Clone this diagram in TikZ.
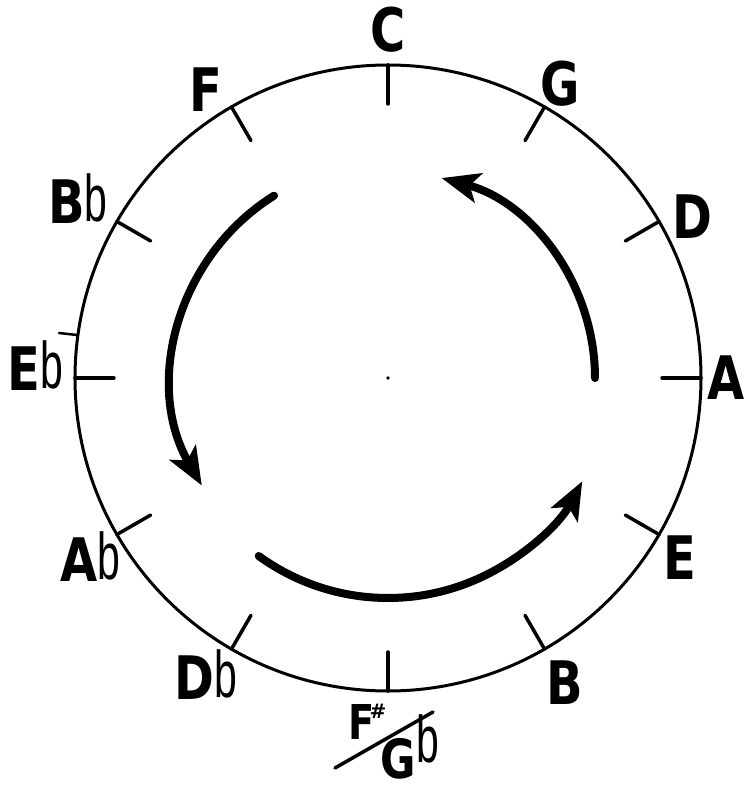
\documentclass[tikz,border=0pt]{standalone}
\usepackage{fontspec}
\setmainfont{DejaVu Sans}
\newfontfamily\keyfont{DejaVu Sans}[FakeStretch=0.8]
\newfontfamily\flatfont{Liberation Sans}
\usetikzlibrary{arrows.meta,calc}
\newcommand{\fl}{{\flatfont\mdseries\fontsize{66}{66}\selectfont\raisebox{2pt}{\scalebox{0.62}[1]{b}}}}
\tikzset{
  ring/.style={line width=3pt},
  tickmark/.style={line width=3.5pt, line cap=round},
  turn/.style={line width=8pt, line cap=round, -{Stealth[length=38pt,width=30pt,inset=9pt]}},
  key/.style={font=\keyfont\bfseries\fontsize{60}{60}\selectfont, inner sep=0pt},
}
\begin{document}
\begin{tikzpicture}[x=1pt,y=1pt]
\useasboundingbox (-388,-409) rectangle (357,378);
\coordinate (o) at (0,0);
\draw[ring] (o) circle[radius=313];
\foreach \a in {90,60,30,0,-30,-60,-90,-120,-150,180,150,120}{
  \draw[tickmark] ($(o)+(\a:313)$) coordinate (t\a) -- ($(o)+(\a:274)$);
}
\fill (o) circle[radius=1.8pt];
% labels
\node[key] (lC) at (0,348) {C};
\node[key] (lG) at (172,294) {G};
\node[key] (lD) at (304,161) {D};
\node[key] (lA) at (338,0) {A};
\node[key] (lE) at (292,-180) {E};
\node[key] (lB) at (177,-305) {B};
\node[key] (lDb) at (-182,-297) {D\fl};
\node[key] (lAb) at (-298,-179) {A\fl};
\node[key] (lEb) at (-353,12) {E\fl};
\node[key] (lBb) at (-310,179) {B\fl};
\node[key] (lF) at (-182,288) {F};
% F sharp / G flat
\node[key, font=\keyfont\bfseries\fontsize{48}{48}\selectfont] (lFs) at (-26,-344) {F};
\node[inner sep=0pt, font=\bfseries\fontsize{20}{20}\selectfont] (lsharp) at (-10,-333) {\#};
\node[key, font=\keyfont\bfseries\fontsize{54}{54}\selectfont] (lGb) at (10,-381) {G};
\node[inner sep=0pt] (lgflat) at (40,-362) {\fl};
\coordinate (s1) at (-53,-390);
\coordinate (s2) at (45,-334);
\draw[line width=3.5pt, line cap=round] (s1) -- (s2);
% small stroke on E flat
\coordinate (e1) at (-329,45);
\coordinate (e2) at (-311,43);
\draw[line width=2.5pt, line cap=round] (e1) -- (e2);
% arrows
\draw[turn] ($(o)+(0:207)$) coordinate (a1) arc[start angle=0, end angle=75, radius=207];
\draw[turn] ($(o)+(122:215)$) coordinate (a2) arc[start angle=122, end angle=210, radius=215];
\draw[turn] ($(o)+(234:220)$) coordinate (a3) arc[start angle=234, end angle=332, radius=220];
\end{tikzpicture}
\end{document}
